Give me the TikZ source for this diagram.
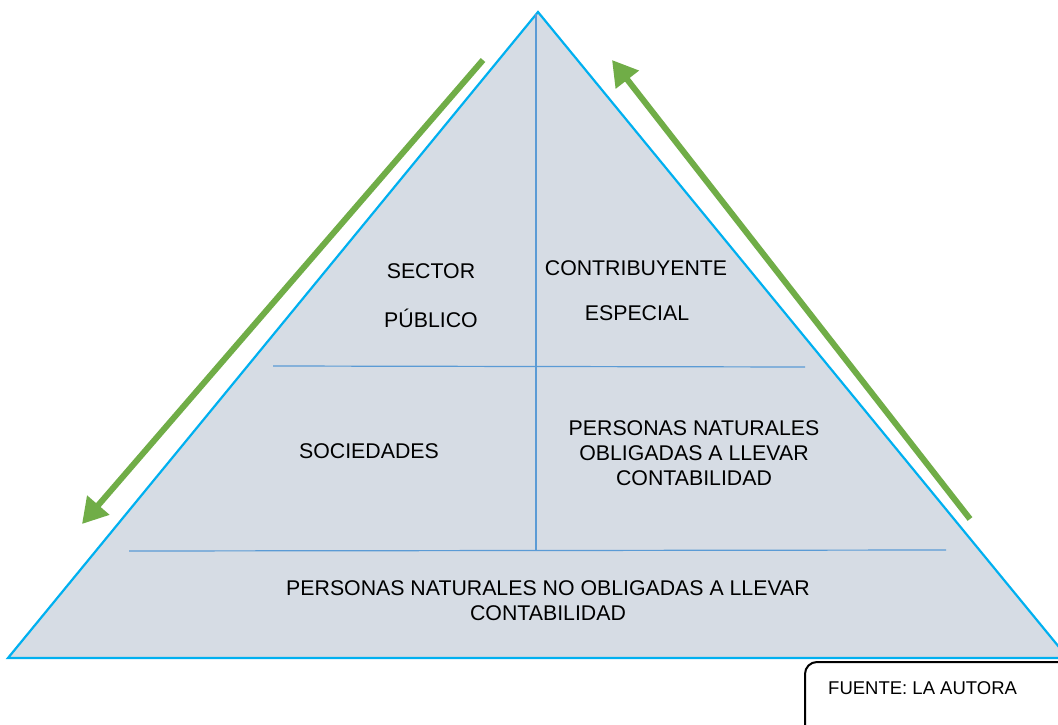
\documentclass[tikz,border=0pt]{standalone}
\usepackage{fontspec}
\setmainfont{Liberation Sans}
\usetikzlibrary{arrows.meta}
\definecolor{pfill}{HTML}{D6DCE4}
\definecolor{pedge}{HTML}{00B0F0}
\definecolor{pline}{HTML}{5B9BD5}
\definecolor{parrow}{HTML}{70AD47}
\tikzset{
  lbl/.style={font=\fontsize{21.3}{25}\selectfont, text=black, align=center, inner sep=0pt},
  divline/.style={draw=pline, line width=1.2pt},
  greenarrow/.style={draw=parrow, line width=6pt, -{Triangle[length=25pt,width=28pt]}},
}
\begin{document}
\begin{tikzpicture}[x=1pt,y=-1pt]
\useasboundingbox (0,0) rectangle (1058,725);
\clip (0,0) rectangle (1058,725);
\fill[white] (0,0) rectangle (1058,725);
% pyramid
\coordinate (apex) at (538,12);
\coordinate (bl) at (8,658);
\coordinate (br) at (1068,658);
\filldraw[fill=pfill, draw=pedge, line width=2.2pt, line join=miter] (apex) -- (bl) -- (br) -- cycle;
% dividers
\coordinate (v1) at (536,14);
\coordinate (v2) at (536,551);
\coordinate (h1a) at (273,366);
\coordinate (h1b) at (805,367);
\coordinate (h2a) at (129,551);
\coordinate (h2b) at (946,550);
\draw[divline] (v1) -- (v2);
\draw[divline] (h1a) -- (h1b);
\draw[divline] (h2a) -- (h2b);
% labels
\node[lbl] (sector) at (431,271) {SECTOR};
\node[lbl] (publico) at (431,318) {PÚBLICO};
\node[lbl] (contrib) at (636,268) {CONTRIBUYENTE};
\node[lbl] (especial) at (637,313) {ESPECIAL};
\node[lbl] (soc) at (369,451) {SOCIEDADES};
\node[lbl] (pnoblig) at (694,453) {PERSONAS NATURALES\\OBLIGADAS A LLEVAR\\CONTABILIDAD};
\node[lbl] (pnno) at (548,601) {PERSONAS NATURALES NO OBLIGADAS A LLEVAR\\CONTABILIDAD};
% arrows
\coordinate (la1) at (483,60);
\coordinate (la2) at (82,524);
\coordinate (ra1) at (970,519);
\coordinate (ra2) at (612,60);
\draw[greenarrow] (la1) -- (la2);
\draw[greenarrow] (ra1) -- (ra2);
% source box
\draw[black, line width=2pt, rounded corners=12pt] (805,740) -- (805,662) -- (1080,662);
\node[font=\fontsize{18.5}{22}\selectfont, anchor=west, inner sep=0pt] (fuente) at (828,688) {FUENTE: LA AUTORA};
\end{tikzpicture}
\end{document}
